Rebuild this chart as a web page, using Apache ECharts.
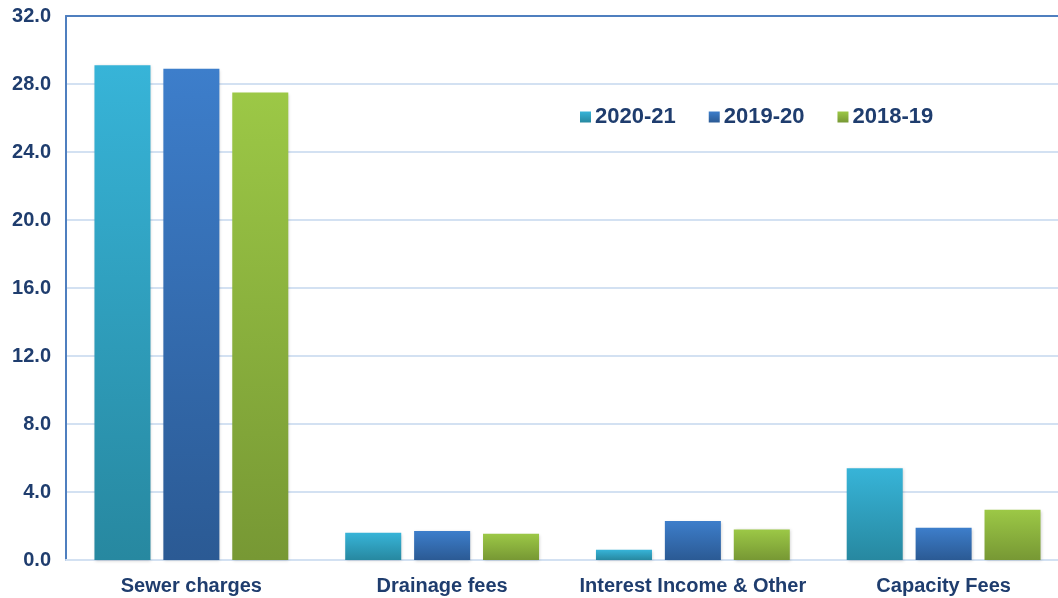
<!DOCTYPE html>
<html><head><meta charset="utf-8">
<script src="https://cdn.jsdelivr.net/npm/echarts@6/dist/echarts.min.js"></script>
<style>html,body{margin:0;padding:0;background:#fff;overflow:hidden}#c{width:1069px;height:598px}</style>
</head><body><div id="c"></div>
<script>
const categories = ['Sewer charges', 'Drainage fees', 'Interest Income & Other', 'Capacity Fees'];
const seriesNames = ['2020-21', '2019-20', '2018-19'];
const v2020_21 = [29.1, 1.6, 0.6, 5.4];
const v2019_20 = [28.9, 1.7, 2.3, 1.9];
const v2018_19 = [27.5, 1.55, 1.8, 2.95];
const yTicks = { min: 0, max: 32, interval: 4 };

const palettes = [['#37b4d8', '#2788a0'], ['#3d7ecb', '#2b5a94'], ['#9cc846', '#779834']];
const values = [v2020_21, v2019_20, v2018_19];
const txt = '#1f3d6e';
const chart = echarts.init(document.getElementById('c'));
chart.setOption({
  animation: false,
  grid: { left: 66, right: 0, top: 16, bottom: 38 },
  legend: {
    data: seriesNames, left: 575, top: 101, itemWidth: 11, itemHeight: 11, itemGap: 33,
    icon: 'rect',
    textStyle: { color: txt, fontSize: 22, fontWeight: 'bold', fontFamily: 'Liberation Sans', padding: [0, 0, 0, -1] }
  },
  xAxis: [{
    type: 'category', data: categories,
    axisLine: { show: true, lineStyle: { color: '#d3e1f2', width: 2 } },
    axisTick: { show: false },
    axisLabel: { interval: 0, color: txt, fontSize: 20, fontWeight: 'bold', fontFamily: 'Liberation Sans', margin: 16 }
  }, {
    type: 'category', data: categories, position: 'top',
    axisLine: { show: true, lineStyle: { color: '#4f7fbf', width: 2 } },
    axisTick: { show: false }, axisLabel: { show: false }
  }],
  yAxis: {
    type: 'value', min: yTicks.min, max: yTicks.max, interval: yTicks.interval,
    axisLine: { show: true, lineStyle: { color: '#4f7fbf', width: 2 } },
    axisTick: { show: false },
    splitLine: { lineStyle: { color: '#d3e1f2', width: 2 } },
    axisLabel: { color: txt, fontSize: 20, fontWeight: 'bold', fontFamily: 'Liberation Sans', margin: 15,
      formatter: v => v.toFixed(1) }
  },
  series: seriesNames.map((n, i) => ({
    name: n, type: 'bar', data: values[i], xAxisIndex: 0,
    barGap: '23%', barCategoryGap: '22.7%',
    itemStyle: {
      color: new echarts.graphic.LinearGradient(0, 0, 0, 1, [
        { offset: 0, color: palettes[i][0] }, { offset: 1, color: palettes[i][1] }]),
      shadowColor: 'rgba(0,0,0,0.18)', shadowBlur: 3, shadowOffsetX: 1, shadowOffsetY: 1
    }
  }))
});
</script></body></html>
